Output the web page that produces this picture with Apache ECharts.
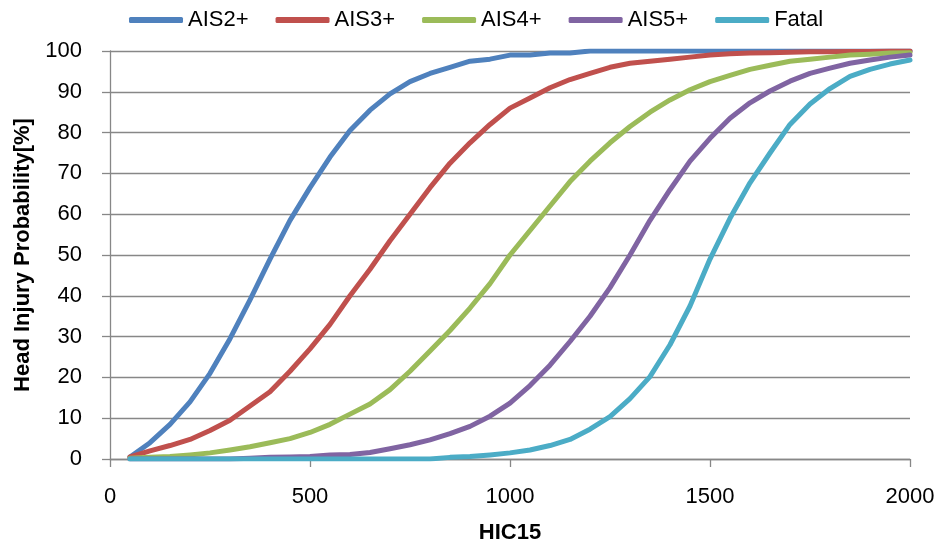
<!DOCTYPE html>
<html>
<head>
<meta charset="utf-8">
<script src="https://cdn.jsdelivr.net/npm/echarts@6/dist/echarts.min.js"></script>
<style>
html,body{margin:0;padding:0;background:#fff;}
#chart{width:943px;height:549px;}
</style>
</head>
<body>
<div id="chart"></div>
<script>
var hic = [50,100,150,200,250,300,350,400,450,500,550,600,650,700,750,800,850,900,950,1000,
           1050,1100,1150,1200,1250,1300,1350,1400,1450,1500,1550,1600,1650,1700,1750,1800,1850,1900,1950,2000];
var seriesNames = ['AIS2+','AIS3+','AIS4+','AIS5+','Fatal'];
var ais2 = [0.5,4,8.5,14,21,29.5,39,49,58.5,66.5,74,80.5,85.5,89.5,92.5,94.5,96,97.5,98,99,
            99,99.5,99.5,100,100,100,100,100,100,100,100,100,100,100,100,100,100,100,100,100];
var ais3 = [0.5,2,3.3,4.8,7,9.5,13,16.5,21.5,27,33,40,46.5,53.5,60,66.5,72.5,77.5,82,86,
            88.5,91,93,94.5,96,97,97.5,98,98.5,99,99.3,99.5,99.6,99.7,99.8,99.8,99.9,99.9,100,100];
var ais4 = [0.2,0.4,0.6,1,1.5,2.2,3,4,5,6.5,8.5,11,13.5,17,21.5,26.5,31.5,37,43,50,
            56,62,68,73,77.5,81.5,85,88,90.5,92.5,94,95.5,96.5,97.5,98,98.5,99,99.2,99.5,99.6];
var ais5 = [0,0,0,0,0,0,0.2,0.4,0.5,0.6,1,1.1,1.6,2.5,3.5,4.7,6.2,8,10.5,13.7,
            18,23,28.8,35,42,50,58.5,66,73,78.6,83.5,87.3,90.2,92.6,94.5,95.8,97,97.8,98.5,99];
var fatal = [0,0,0,0,0,0,0,0,0,0,0,0,0,0,0,0,0.4,0.6,1,1.5,
             2.2,3.3,4.8,7.3,10.4,14.8,20.2,28,37.5,49,59,67.7,75,82,87,90.8,93.8,95.5,96.8,97.8];
var xTicks = [0,500,1000,1500,2000];
var yTicks = [0,10,20,30,40,50,60,70,80,90,100];
var colors = ['#4F81BD','#C0504D','#9BBB59','#8064A2','#4BACC6'];

var allValues = [ais2, ais3, ais4, ais5, fatal];
var FONT = '"Liberation Sans", Arial, sans-serif';
var gridColor = '#878787';

var series = seriesNames.map(function(name, i){
  return {
    name: name,
    type: 'line',
    data: hic.map(function(h, k){ return [h, allValues[i][k]]; }),
    showSymbol: false,
    symbol: 'none',
    smooth: false,
    lineStyle: { width: 5, color: colors[i], cap: 'round', join: 'round' },
    itemStyle: { color: colors[i] },
    animation: false
  };
});

var chart = echarts.init(document.getElementById('chart'), null, {renderer: 'canvas'});
chart.setOption({
  backgroundColor: '#ffffff',
  animation: false,
  color: colors,
  legend: {
    data: seriesNames.map(function(n){ return {name: n, icon: 'roundRect'}; }),
    left: 129,
    top: 9,
    itemWidth: 54,
    itemHeight: 6,
    itemGap: 27,
    textStyle: { fontFamily: FONT, fontSize: 22, color: '#000', padding: [0,0,0,0] },
    padding: 0
  },
  grid: { left: 110, right: 33, top: 51, bottom: 86, containLabel: false },
  xAxis: {
    type: 'value',
    min: 0, max: 2000, interval: 500,
    name: 'HIC15',
    nameLocation: 'middle',
    nameGap: 63,
    nameTextStyle: { fontFamily: FONT, fontSize: 22, fontWeight: 'bold', color: '#000' },
    axisLine: { show: true, onZero: false, lineStyle: { color: gridColor, width: 1.3 } },
    axisTick: { show: true, length: 8, inside: false, lineStyle: { color: gridColor, width: 1.3 } },
    axisLabel: { margin: 27, fontFamily: FONT, fontSize: 22, color: '#000',
      formatter: function(v){ return xTicks.indexOf(v) >= 0 ? String(v) : ''; } },
    splitLine: { show: false }
  },
  yAxis: {
    type: 'value',
    min: 0, max: 100, interval: 10,
    name: 'Head Injury Probability[%]',
    nameLocation: 'middle',
    nameGap: 75,
    nameTextStyle: { fontFamily: FONT, fontSize: 22, fontWeight: 'bold', color: '#000' },
    axisLine: { show: true, lineStyle: { color: gridColor, width: 1.3 } },
    axisTick: { show: true, length: 8, inside: false, lineStyle: { color: gridColor, width: 1.3 } },
    axisLabel: { margin: 28, fontFamily: FONT, fontSize: 22, color: '#000',
      formatter: function(v){ return yTicks.indexOf(v) >= 0 ? String(v) : ''; } },
    splitLine: { show: true, lineStyle: { color: gridColor, width: 1.3 } }
  },
  series: series
});
</script>
</body>
</html>
